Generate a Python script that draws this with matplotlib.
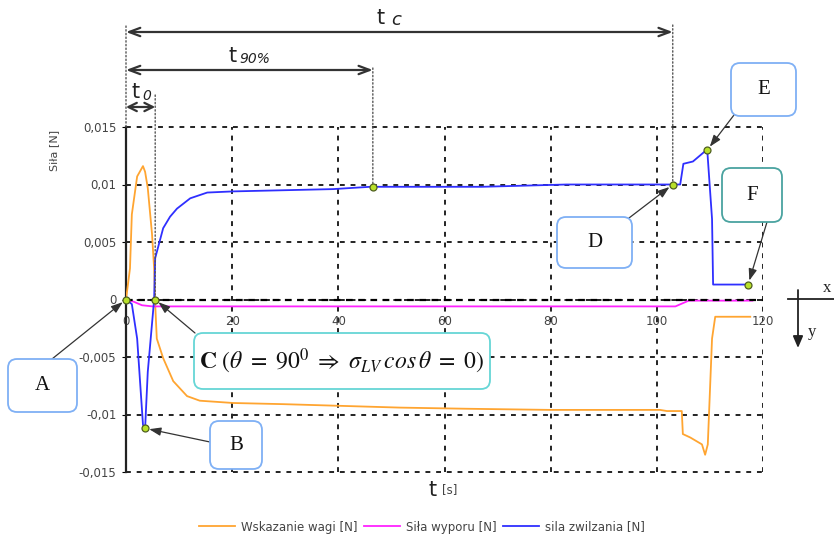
import matplotlib
matplotlib.use("Agg")
import matplotlib.pyplot as plt
import matplotlib.transforms as mtransforms
from matplotlib.patches import FancyBboxPatch
from matplotlib.lines import Line2D

plt.rcParams['mathtext.fontset'] = 'stix'

# ---------------- data ----------------
t_waga = [0, 0.75, 1.1, 2.1, 3.2, 3.6, 4.1, 4.9, 5.3, 5.5, 5.8, 7.0, 8.9, 11.5, 13.9, 20.2,
          29.6, 51.6, 64.2, 79.9, 100.6, 101.9, 104.7, 104.9, 106.3, 108.5, 109.1, 109.6,
          110.4, 111.0, 117.6]
v_waga = [0, 0.0027, 0.0074, 0.0107, 0.0116, 0.0111, 0.0097, 0.0057, 0.0027, -0.0004,
          -0.0034, -0.0051, -0.0071, -0.0084, -0.0088, -0.0090, -0.0091, -0.0094, -0.0095,
          -0.0096, -0.0096, -0.0097, -0.0097, -0.0117, -0.0120, -0.0126, -0.0135, -0.0126,
          -0.0034, -0.0015, -0.0015]

t_wypor = [0, 1.5, 3.0, 5.0, 103.5, 106.0, 118.0]
v_wypor = [0, -0.0002, -0.0005, -0.0006, -0.0006, -0.0001, -0.0001]

t_zwil = [0, 1.1, 2.1, 3.2, 3.6, 4.1, 4.9, 5.3, 5.5, 7.0, 8.3, 9.6, 12.1, 15.3, 20.2, 39.0,
          46.0, 67.0, 83.0, 103.0, 104.4, 105.0, 106.8, 109.1, 109.5, 109.6, 110.4, 110.6,
          117.2]
v_zwil = [0, -0.0004, -0.0034, -0.0109, -0.0112, -0.0063, -0.0021, 0, 0.0036, 0.0062,
          0.0072, 0.0079, 0.0088, 0.0093, 0.0094, 0.0096, 0.0098, 0.0098, 0.0100, 0.0100,
          0.0100, 0.0118, 0.0120, 0.0129, 0.0130, 0.0123, 0.0070, 0.0013, 0.0013]

# key points (A, B, C, t90, D, E, F)
key_names = ['A', 'B', 'C', 't90', 'D', 'E', 'F']
key_t = [0, 3.6, 5.5, 46.5, 103.0, 109.5, 117.2]
key_v = [0, -0.0112, 0, 0.0098, 0.0100, 0.0130, 0.0013]

x_ticks = [0, 20, 40, 60, 80, 100, 120]
y_ticks = [-0.015, -0.01, -0.005, 0, 0.005, 0.01, 0.015]
y_tick_labels = ['-0,015', '-0,01', '-0,005', '0', '0,005', '0,01', '0,015']
legend_labels = ['Wskazanie wagi [N]', 'Siła wyporu [N]', 'sila zwilzania [N]']

# ---------------- figure ----------------
W, H = 834, 538
fig = plt.figure(figsize=(W / 100, H / 100), dpi=100)
ax = fig.add_axes([126 / W, (H - 472) / H, (763 - 126) / W, (472 - 127) / H])
ID = mtransforms.IdentityTransform()
blend = mtransforms.blended_transform_factory(ax.transData, ID)


def py(y_img):
    return H - y_img


c_or = '#ffa531'
c_mg = '#ff22ff'
c_bl = '#2f2fff'

ax.plot(t_waga, v_waga, color=c_or, lw=1.3, zorder=3)
ax.plot(t_wypor, v_wypor, color=c_mg, lw=1.3, zorder=3)
ax.plot(t_zwil, v_zwil, color=c_bl, lw=1.3, zorder=3)
ax.axhline(0, color='black', lw=1.6, ls=(0, (3, 2.5)), zorder=4)

ax.set_xlim(0, 120)
ax.set_ylim(-0.015, 0.015)
ax.set_xticks(x_ticks)
ax.set_yticks(y_ticks)
ax.set_yticklabels(y_tick_labels)
ax.grid(True, color='#222222', ls=(0, (2.5, 3)), lw=1.4)
ax.set_axisbelow(True)
for gl in ax.get_xgridlines() + ax.get_ygridlines():
    gl.set_clip_on(False)
for s in ['top', 'right']:
    ax.spines[s].set_visible(False)
ax.spines['bottom'].set_position(('data', 0))
ax.spines['bottom'].set_visible(False)
ax.spines['left'].set_color('#222222')
ax.spines['left'].set_linewidth(1.6)
ax.tick_params(axis='x', length=0, pad=11, labelsize=8.5, labelcolor='#444444')
ax.tick_params(axis='y', length=3, pad=4, labelsize=8.5, labelcolor='#444444')

fig.text(54, py(150), 'Siła [N]', transform=ID, rotation=90, ha='center', va='center',
         fontsize=8, color='#444444')
fig.text(433, py(490), 't', transform=ID, ha='center', va='center', fontsize=15, color='#222222')
fig.text(450, py(490), '[s]', transform=ID, ha='center', va='center', fontsize=8.5, color='#444444')

# key markers
ax.plot(key_t, key_v, 'o', ms=5, mfc='#b8e02a', mec='#4f5f20', mew=0.9, zorder=6, clip_on=False)

# ---- dimension arrows ----
dim_col = '#333333'
idx_t0, idx_t90, idx_tc = 2, 3, 4
dims = [(key_t[idx_tc], 32, 0.8), (key_t[idx_t90], 70, 0.8), (key_t[idx_t0], 107, 0.6)]
for tend, yimg, hl in dims:
    ax.annotate('', xy=(tend, py(yimg)), xycoords=blend, xytext=(0, py(yimg)), textcoords=blend,
                arrowprops=dict(arrowstyle=f'<->,head_length={hl},head_width=0.3', color=dim_col,
                                lw=1.6, shrinkA=0, shrinkB=0), annotation_clip=False)
# vertical dotted guides
ax.annotate('', xy=(0, py(127)), xycoords=blend, xytext=(0, py(26)), textcoords=blend,
            arrowprops=dict(arrowstyle='-', ls=':', color='#555555', lw=1, shrinkA=0, shrinkB=0),
            annotation_clip=False)
for i, ytop in [(idx_tc, 25), (idx_t90, 68), (idx_t0, 95)]:
    ax.annotate('', xy=(key_t[i], key_v[i]), xycoords='data', xytext=(key_t[i], py(ytop)),
                textcoords=blend,
                arrowprops=dict(arrowstyle='-', ls=':', color='#555555', lw=1, shrinkA=0, shrinkB=0),
                annotation_clip=False)

fig.text(381, py(18), 't', transform=ID, ha='center', va='center', fontsize=15, color='#222222')
fig.text(396, py(20), 'c', transform=ID, ha='center', va='center', fontsize=13, style='italic',
         color='#222222')
fig.text(233, py(56), 't', transform=ID, ha='center', va='center', fontsize=15, color='#222222')
fig.text(255, py(59), '90%', transform=ID, ha='center', va='center', fontsize=10, style='italic',
         color='#222222')
fig.text(136, py(92), 't', transform=ID, ha='center', va='center', fontsize=15, color='#222222')
fig.text(147, py(96), '0', transform=ID, ha='center', va='center', fontsize=10, style='italic',
         color='#222222')


# ---- callout boxes ----
def box(x0, y0, x1, y1, label, ec, fs=15, tx=None):
    p = FancyBboxPatch((x0, py(y1)), x1 - x0, y1 - y0,
                       boxstyle='round,pad=0,rounding_size=9', fc='white', ec=ec, lw=1.3,
                       transform=ID, figure=fig, zorder=5)
    fig.patches.append(p)
    cx = (x0 + x1) / 2 if tx is None else tx
    fig.text(cx, py((y0 + y1) / 2), label, transform=ID, ha='center', va='center', fontsize=fs,
             family='Liberation Serif', color='#111111', zorder=6)


def arrow(i, x_img, y_img):
    ax.annotate('', xy=(key_t[i], key_v[i]), xycoords='data', xytext=(x_img, py(y_img)),
                textcoords=ID,
                arrowprops=dict(arrowstyle='-|>,head_length=0.7,head_width=0.25', color='#333333',
                                lw=0.9, shrinkA=0, shrinkB=3), annotation_clip=False, zorder=7)


c_box = '#7fb0f5'
c_teal = '#66d6d6'
c_teal2 = '#4aa3a0'
box(8, 359, 77, 412, 'A', c_box)
arrow(0, 52, 359)
box(210, 421, 262, 469, 'B', c_box)
arrow(1, 210, 442)
box(194, 333, 490, 389,
    r'$\mathbf{C}\ \left(\theta\ =\ 90^0\ \Rightarrow\ \sigma_{LV}\, cos\,\theta\ =\ 0\right)$',
    c_teal, fs=17)
arrow(2, 195, 333)
box(557, 217, 632, 268, 'D', c_box)
arrow(4, 629, 218)
box(731, 63, 796, 116, 'E', c_box)
arrow(5, 734, 115)
box(722, 168, 782, 222, 'F', c_teal2)
arrow(6, 767, 222)

# ---- coordinate indicator ----
fig.add_artist(Line2D([788, 834], [py(299), py(299)], transform=ID, color='#222222', lw=1.3))
ax.annotate('', xy=(798, py(348)), xycoords=ID, xytext=(798, py(290)), textcoords=ID,
            arrowprops=dict(arrowstyle='-|>,head_length=0.7,head_width=0.3', color='#222222',
                            lw=1.3, shrinkA=0, shrinkB=0), annotation_clip=False)
fig.text(827, py(288), 'x', transform=ID, ha='center', va='center', fontsize=12,
         family='Liberation Serif', color='#222222')
fig.text(812, py(332), 'y', transform=ID, ha='center', va='center', fontsize=12,
         family='Liberation Serif', color='#222222')

# ---- legend ----
handles = [Line2D([], [], color=c_or, lw=1.3), Line2D([], [], color=c_mg, lw=1.3),
           Line2D([], [], color=c_bl, lw=1.3)]
leg = fig.legend(handles, legend_labels, loc='center', bbox_to_anchor=(422 / W, 1 - 527 / H),
                 ncol=3, frameon=False, fontsize=8.5, handlelength=3.0, columnspacing=0.6,
                 handletextpad=0.5)
for t in leg.get_texts():
    t.set_color('#444444')

fig.savefig('out.png', dpi=100)
